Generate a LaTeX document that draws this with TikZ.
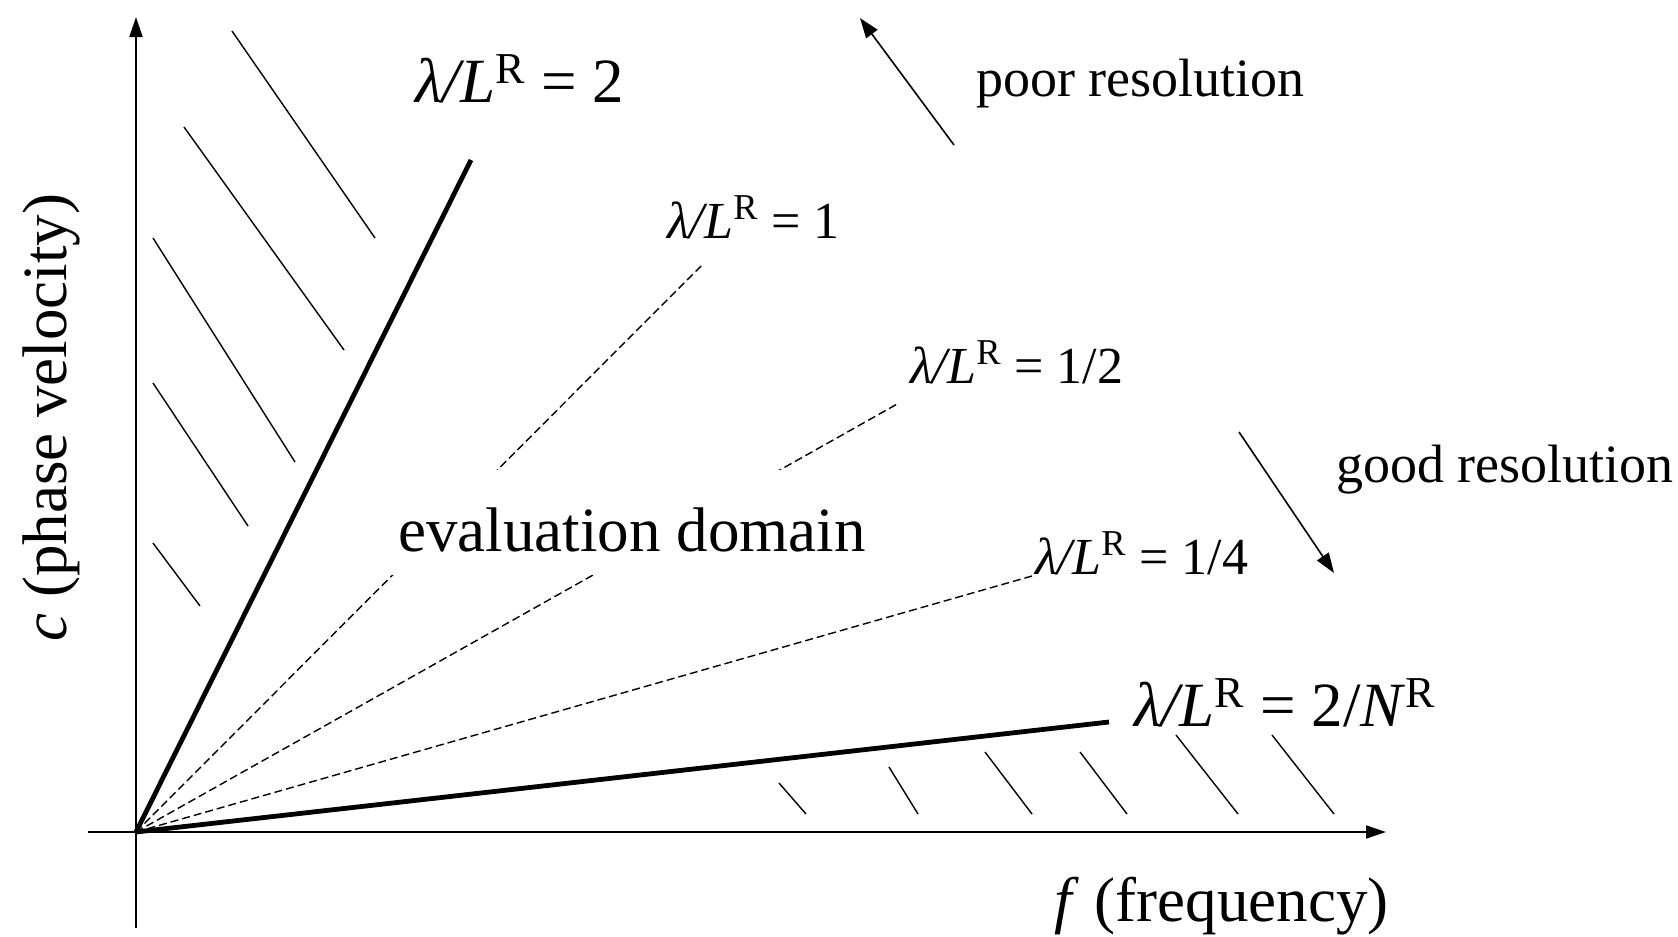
\documentclass[tikz,border=0pt]{standalone}
\usepackage{fontspec}
\setmainfont{Liberation Serif}
\usetikzlibrary{arrows.meta}
\newcommand{\lamratio}[1]{\textit{λ/L}\textsuperscript{R} = #1}
\begin{document}
\begin{tikzpicture}[x=0.5pt,y=-0.5pt,
  axis/.style={line width=1pt,-{Triangle[length=10pt,width=6.5pt]}},
  bound/.style={line width=2.4pt},
  ratio/.style={line width=0.7pt,dash pattern=on 4pt off 2pt},
  hatch/.style={line width=0.7pt},
  pointer/.style={line width=0.8pt,-{Triangle[length=10pt,width=7pt]}},
  big/.style={font=\fontsize{31.5}{36}\selectfont,inner sep=0pt},
  mid/.style={font=\fontsize{26}{30}\selectfont,inner sep=0pt},
  note/.style={font=\fontsize{27}{31}\selectfont,inner sep=0pt}]
\useasboundingbox[fill=white] (0,0) rectangle (1678,937);
% axes
\coordinate (O) at (136,832);
\coordinate (ytop) at (136,17);
\coordinate (ybot) at (136,928);
\coordinate (xleft) at (88,832);
\coordinate (xright) at (1386,832);
\draw[axis] (ybot) -- (ytop);
\draw[axis] (xleft) -- (xright);
% line ends
\coordinate (e2) at (471,160);
\coordinate (e1) at (704,263);
\coordinate (eh) at (899,403);
\coordinate (eq) at (1032,576);
\coordinate (eN) at (1109,722);
% dashed ratio lines
\draw[ratio] (O) -- (e1);
\draw[ratio] (O) -- (eh);
\draw[ratio] (O) -- (eq);
% evaluation domain label (covers the dashed lines)
\node[big,fill=white,anchor=base west,inner xsep=6.5pt,text height=40.5pt,text depth=12pt]
  (eval) at (385,551) {evaluation domain};
% bounding lines
\draw[bound] (O) -- (e2);
\draw[bound] (O) -- (eN);
% hatching upper left
\draw[hatch] (232,31) -- (375,238);
\draw[hatch] (184,127) -- (344,350);
\draw[hatch] (153,238) -- (295,462);
\draw[hatch] (153,383) -- (248,526);
\draw[hatch] (153,543) -- (200,606);
% hatching lower right
\draw[hatch] (779,783) -- (806,814);
\draw[hatch] (889,767) -- (918,814);
\draw[hatch] (985,752) -- (1032,814);
\draw[hatch] (1080,752) -- (1127,814);
\draw[hatch] (1176,735) -- (1238,814);
\draw[hatch] (1272,735) -- (1334,814);
% labels
\node[big,anchor=base west] (l2) at (415,102) {\lamratio{2}};
\node[mid,anchor=base west] (l1) at (667,238) {\lamratio{1}};
\node[mid,anchor=base west] (lh) at (910,383) {\lamratio{1/2}};
\node[mid,anchor=base west] (lq) at (1035,574) {\lamratio{1/4}};
\node[big,anchor=base west] (lN) at (1134,726) {\lamratio{2/\textit{N}\textsuperscript{R}}};
\node[note,anchor=base west] (poor) at (976,96) {poor resolution};
\node[note,anchor=base west] (good) at (1336,482) {good resolution};
\node[big,anchor=base west] (fx) at (1054,921) {\textit{f} (frequency)};
\node[big,anchor=base west,rotate=90] (cy) at (66,642) {\textit{c} (phase velocity)};
% resolution arrows
\coordinate (pt) at (954,145);
\coordinate (ph) at (860,18);
\coordinate (gt) at (1239,432);
\coordinate (gh) at (1334,573);
\draw[pointer] (pt) -- (ph);
\draw[pointer] (gt) -- (gh);
\end{tikzpicture}
\end{document}
